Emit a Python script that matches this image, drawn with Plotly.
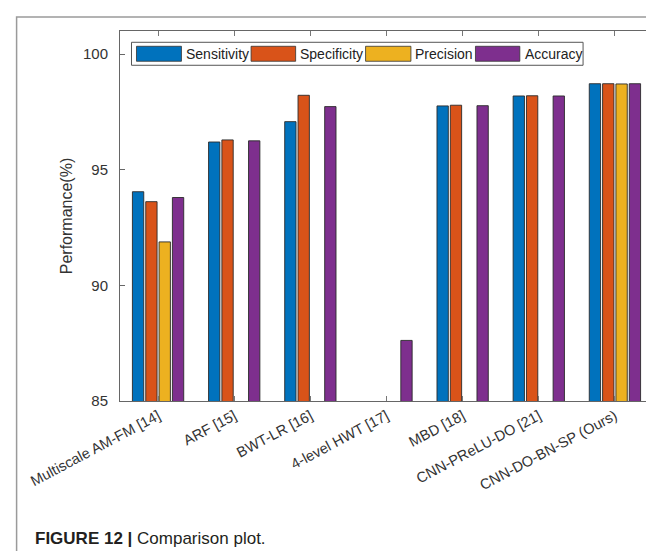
import plotly.graph_objects as go

categories = ["Multiscale AM-FM [14]", "ARF [15]", "BWT-LR [16]", "4-level HWT [17]",
              "MBD [18]", "CNN-PReLU-DO [21]", "CNN-DO-BN-SP (Ours)"]
series_names = ["Sensitivity", "Specificity", "Precision", "Accuracy"]
sensitivity = [94.05, 96.2, 97.08, None, 97.76, 98.19, 98.72]
specificity = [93.62, 96.29, 98.22, None, 97.79, 98.2, 98.72]
precision = [91.88, None, None, None, None, None, 98.71]
accuracy = [93.8, 96.25, 97.73, 87.62, 97.77, 98.19, 98.72]
y_ticks = [85, 90, 95, 100]

colors = ["#0072BD", "#D95319", "#EDB120", "#7E2F8E"]
values = [sensitivity, specificity, precision, accuracy]

W, H = 654, 551
L, R, T, B = 111.5, 645.0, 23.0, 393.3
PW, PH = R - L, B - T


def xp(px):
    return (px - L) / PW


def yp(py):
    return (B - py) / PH


FONT = "Liberation Sans, Arial, Helvetica, sans-serif"

fig = go.Figure()
for name, vals, col in zip(series_names, values, colors):
    fig.add_trace(go.Bar(
        x=categories, y=vals, name=name,
        marker=dict(color=col, line=dict(color="#2a2a2a", width=0.9)),
        showlegend=False,
    ))

# invisible trace to enable right-side tick marks
fig.add_trace(go.Scatter(x=categories, y=[None] * len(categories), yaxis="y2",
                         mode="markers", showlegend=False, hoverinfo="skip"))

shapes = []
annotations = []

# outer figure frame
shapes.append(dict(type="rect", xref="paper", yref="paper",
                   x0=xp(8), x1=xp(700), y0=yp(620), y1=yp(9),
                   line=dict(color="#9a9a9a", width=1.5), fillcolor="rgba(0,0,0,0)",
                   layer="below"))

# legend box
shapes.append(dict(type="rect", xref="paper", yref="paper",
                   x0=xp(123), x1=xp(575), y0=yp(57.3), y1=yp(34.3),
                   line=dict(color="#555555", width=1), fillcolor="white"))
patch_x = [(128, 173), (242.7, 287.3), (357.3, 402.7), (467.3, 511.7)]
text_x = [176, 290, 405, 514.5]
for (a, b), tx, name, col in zip(patch_x, text_x, series_names, colors):
    shapes.append(dict(type="rect", xref="paper", yref="paper",
                       x0=xp(a), x1=xp(b), y0=yp(53.3), y1=yp(38.3),
                       line=dict(color="#333333", width=0.8), fillcolor=col))
    annotations.append(dict(text=name, xref="paper", yref="paper",
                            x=xp(tx), y=yp(46), xanchor="left", yanchor="middle",
                            showarrow=False, font=dict(family=FONT, size=14, color="#222222")))

# caption
annotations.append(dict(text="<b>FIGURE 12 |</b> Comparison plot.", xref="paper", yref="paper",
                        x=xp(24), y=yp(531), xanchor="left", yanchor="middle",
                        showarrow=False, font=dict(family=FONT, size=17, color="#231f20")))

fig.update_layout(
    width=W, height=H,
    margin=dict(l=L, r=W - R, t=T, b=H - B, pad=0),
    paper_bgcolor="white", plot_bgcolor="white",
    barmode="group", bargap=0.3, bargroupgap=0.15,
    font=dict(family=FONT, size=14, color="#333333"),
    shapes=shapes, annotations=annotations,
    xaxis=dict(type="category", range=[-0.5, 6.5], tickangle=-28,
               showline=True, linecolor="#666666", linewidth=1, mirror="ticks",
               ticks="inside", ticklen=5, tickcolor="#777777",
               tickfont=dict(size=14.6, color="#333333"), showgrid=False),
    yaxis=dict(range=[85, 101], tickvals=y_ticks,
               showline=True, linecolor="#666666", linewidth=1,
               ticks="inside", ticklen=5, tickcolor="#666666", ticklabelstandoff=8,
               tickfont=dict(size=15, color="#333333"), showgrid=False, zeroline=False,
               title=dict(text="Performance(%)", font=dict(size=16, color="#333333"), standoff=6)),
    yaxis2=dict(range=[85, 101], tickvals=y_ticks, overlaying="y", side="right",
                showline=False, ticks="inside", ticklen=5, tickcolor="#666666",
                showticklabels=False, showgrid=False, zeroline=False),
)

fig.write_html("out.html")
